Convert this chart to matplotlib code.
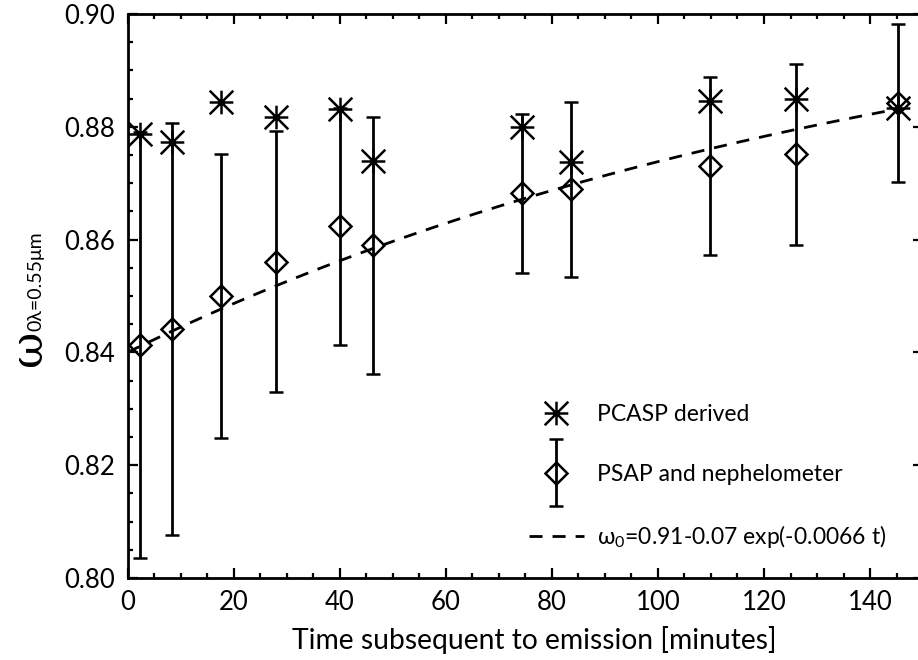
import numpy as np
import matplotlib
matplotlib.use("Agg")
import matplotlib.pyplot as plt
from matplotlib.path import Path
from matplotlib.legend_handler import HandlerErrorbar
from matplotlib.ticker import MultipleLocator, FormatStrFormatter

plt.rcParams['font.family'] = ['Lato', 'DejaVu Sans']

# Data
t_pcasp = [2.3, 8.4, 17.7, 28.0, 40.0, 46.3, 74.3, 83.6, 109.9, 126.0, 145.3]
w_pcasp = [0.8788, 0.8773, 0.8844, 0.8818, 0.8831, 0.8740, 0.8800, 0.8737, 0.8846, 0.8849, 0.8833]

t_psap = [2.3, 8.4, 17.7, 28.0, 40.0, 46.3, 74.3, 83.6, 109.9, 126.0, 145.3]
w_psap = [0.8413, 0.8441, 0.8500, 0.8561, 0.8624, 0.8590, 0.8682, 0.8689, 0.8730, 0.8751, 0.8843]
w_err = [0.0377, 0.0365, 0.0252, 0.0232, 0.0210, 0.0228, 0.0141, 0.0155, 0.0158, 0.0161, 0.0140]

fit_a, fit_b, fit_c = 0.91, 0.07, 0.0066
fit_t = np.linspace(0.0, 145.3, 300)
fit_w = fit_a - fit_b * np.exp(-fit_c * fit_t)

label_pcasp = 'PCASP derived'
label_psap = 'PSAP and nephelometer'
label_fit = r'$\mathregular{\omega_0}$=0.91-0.07 exp(-0.0066 t)'

# IDL-style asterisk marker (+ and x combined)
ast_verts = [(-1, 0), (1, 0), (0, -1), (0, 1), (-1, -1), (1, 1), (-1, 1), (1, -1)]
ast_codes = [Path.MOVETO, Path.LINETO] * 4
asterisk = Path(ast_verts, ast_codes)

fig = plt.figure(figsize=(9.18, 6.60), dpi=100)
ax = fig.add_axes([127.5 / 918, 82 / 660, 795.6 / 918, 564 / 660])

fit_line, = ax.plot(fit_t, fit_w, color='black', lw=2.0, linestyle=(0, (4.7, 3.6)),
                    label=label_fit, zorder=2)

eb = ax.errorbar(t_psap, w_psap, yerr=w_err, fmt='D', ms=11.5, mfc='none', mec='black', mew=1.8,
                 ecolor='black', elinewidth=2.0, capsize=4.8, capthick=2.0, label=label_psap, zorder=3)

ast_line, = ax.plot(t_pcasp, w_pcasp, linestyle='none', marker=asterisk, ms=17, mew=1.8,
                    color='black', label=label_pcasp, zorder=4)

ax.set_xlim(0, 150)
ax.set_ylim(0.80, 0.90)
ax.xaxis.set_major_locator(MultipleLocator(20))
ax.xaxis.set_minor_locator(MultipleLocator(5))
ax.yaxis.set_major_locator(MultipleLocator(0.02))
ax.yaxis.set_minor_locator(MultipleLocator(0.005))
ax.yaxis.set_major_formatter(FormatStrFormatter('%.2f'))
ax.tick_params(which='both', direction='in', top=True, right=True, width=1.6, labelsize=18.5)
ax.tick_params(axis='y', pad=9)
ax.tick_params(axis='x', pad=9)
ax.tick_params(which='major', length=7.5)
ax.tick_params(which='minor', length=3.8)
for s in ax.spines.values():
    s.set_linewidth(2.0)

ax.set_xlabel('Time subsequent to emission [minutes]', fontsize=20.3)
ax.xaxis.set_label_coords(0.511, -0.085)

# y label: large omega with smaller subscript
fig.text(28 / 918, 1 - 348 / 660, '\u03c9', rotation=90, fontsize=32, ha='center', va='center',
         family=['DejaVu Serif'])
fig.text(36 / 918, 1 - 281 / 660, '0\u03bb=0.55\u03bcm', rotation=90, fontsize=14, ha='center',
         va='center', family=['Lato', 'DejaVu Sans'])

handles = [ast_line, eb, fit_line]
labels = [label_pcasp, label_psap, label_fit]
leg = ax.legend(handles, labels, loc='lower left', bbox_to_anchor=((501 - 127.5) / 795.6, 0.0),
                frameon=False, fontsize=16.5, handlelength=2.4, handletextpad=0.6,
                labelspacing=1.7, borderaxespad=0.8,
                handler_map={type(eb): HandlerErrorbar(yerr_size=1.45)})

fig.savefig('out.png', dpi=100)
